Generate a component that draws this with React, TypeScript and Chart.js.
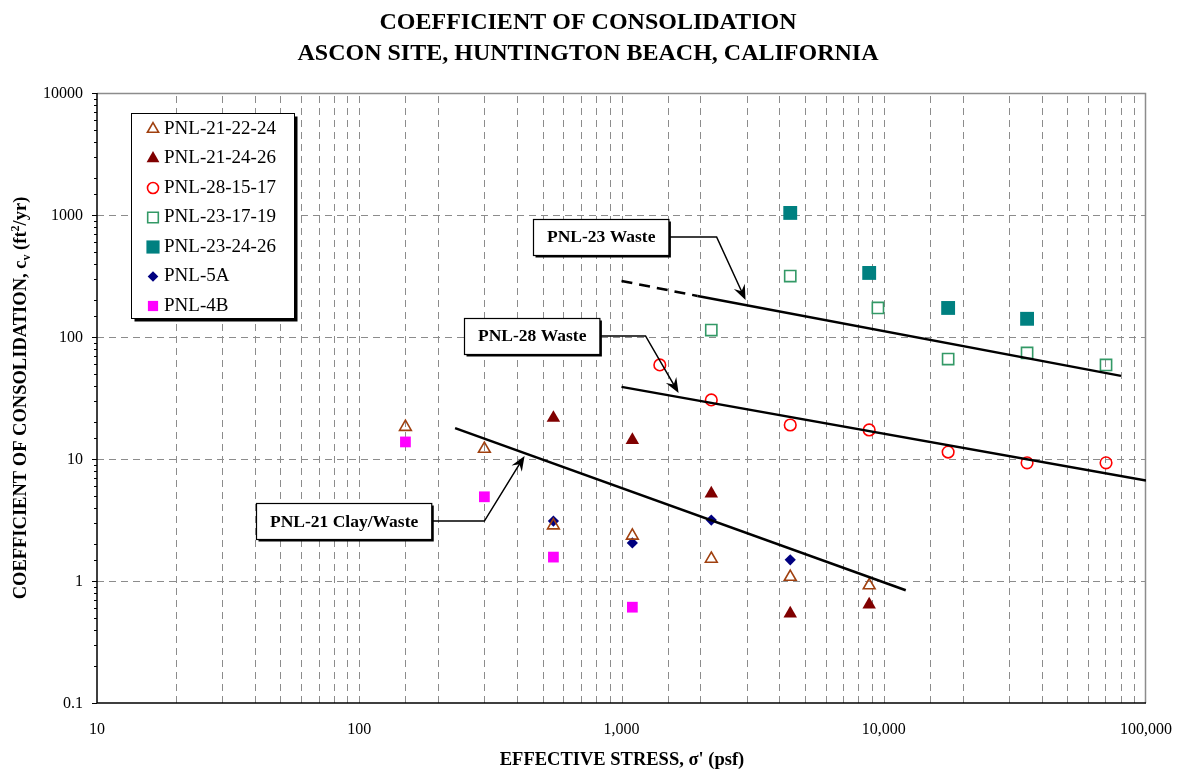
import React, { useEffect, useRef } from 'react';
import { Chart, registerables } from 'chart.js';

Chart.register(...registerables);

const FONT = "'Liberation Serif', 'Times New Roman', serif";

// ---- data (effective stress psf, cv ft2/yr) ----
const pnl21_22_24_x = [150, 300, 550, 1100, 2200, 4400, 8800];
const pnl21_22_24_y = [18.3, 12.1, 2.85, 2.35, 1.52, 1.08, 0.92];
const pnl21_24_26_x = [550, 1100, 2200, 4400, 8800];
const pnl21_24_26_y = [21.7, 14.3, 5.2, 0.54, 0.64];
const pnl28_15_17_x = [1400, 2200, 4400, 8800, 17600, 35200, 70400];
const pnl28_15_17_y = [59, 30.5, 19, 17.3, 11.4, 9.3, 9.3];
const pnl23_17_19_x = [2200, 4400, 9500, 17600, 35200, 70400];
const pnl23_17_19_y = [114, 316, 173, 66, 74, 59];
const pnl23_24_26_x = [4400, 8800, 17600, 35200];
const pnl23_24_26_y = [1040, 335, 173, 141];
const pnl5a_x = [550, 1100, 2200, 4400];
const pnl5a_y = [3.1, 2.05, 3.16, 1.49];
const pnl4b_x = [150, 300, 550, 1100];
const pnl4b_y = [13.8, 4.9, 1.57, 0.61];

// ---- trend lines ----
const fit21_x = [232, 12130];
const fit21_y = [17.9, 0.84];
const fit28_x = [1000, 100000];
const fit28_y = [39, 6.65];
const fit23_x = [1950, 80300];
const fit23_y = [217, 48];
const fit23dash_x = [1000, 1950];
const fit23dash_y = [288, 217];

// ---- annotations (data coords) ----
const annLabels = ['PNL-23 Waste', 'PNL-28 Waste', 'PNL-21 Clay/Waste'];
const annBoxCenter = [[832, 661], [453, 102], [86.9, 3.1]];
const annElbow = [[2305, 661], [1235, 102], [300, 3.1]];
const annTip = [[2972, 201], [1651, 34.8], [427, 10.6]];

// ---- axis tick labels ----
const xTickValues = [10, 100, 1000, 10000, 100000];
const xTickLabels = ['10', '100', '1,000', '10,000', '100,000'];
const yTickValues = [0.1, 1, 10, 100, 1000, 10000];
const yTickLabels = ['0.1', '1', '10', '100', '1000', '10000'];

const titleLines = ['COEFFICIENT OF CONSOLIDATION', 'ASCON SITE, HUNTINGTON BEACH, CALIFORNIA'];

type Series = { label: string; xs: number[]; ys: number[]; style: string; r: number; color: string; fill: boolean };
const series: Series[] = [
  { label: 'PNL-21-22-24', xs: pnl21_22_24_x, ys: pnl21_22_24_y, style: 'triangle', r: 6.8, color: '#A0400F', fill: false },
  { label: 'PNL-21-24-26', xs: pnl21_24_26_x, ys: pnl21_24_26_y, style: 'triangle', r: 7.8, color: '#800000', fill: true },
  { label: 'PNL-28-15-17', xs: pnl28_15_17_x, ys: pnl28_15_17_y, style: 'circle', r: 5.8, color: '#FF0000', fill: false },
  { label: 'PNL-23-17-19', xs: pnl23_17_19_x, ys: pnl23_17_19_y, style: 'rect', r: 7.9, color: '#339966', fill: false },
  { label: 'PNL-23-24-26', xs: pnl23_24_26_x, ys: pnl23_24_26_y, style: 'rect', r: 9.8, color: '#008080', fill: true },
  { label: 'PNL-5A', xs: pnl5a_x, ys: pnl5a_y, style: 'rectRot', r: 5.6, color: '#000080', fill: true },
  { label: 'PNL-4B', xs: pnl4b_x, ys: pnl4b_y, style: 'rect', r: 7.6, color: '#FF00FF', fill: true },
];

function isDecade(v: number) {
  const l = Math.log10(v);
  return Math.abs(l - Math.round(l)) < 1e-6;
}

function drawMarker(ctx: CanvasRenderingContext2D, s: Series, x: number, y: number, scale = 1) {
  const r = s.r * scale;
  ctx.save();
  ctx.beginPath();
  if (s.style === 'triangle') {
    ctx.moveTo(x, y - r);
    ctx.lineTo(x + r * 0.866, y + r * 0.5);
    ctx.lineTo(x - r * 0.866, y + r * 0.5);
    ctx.closePath();
  } else if (s.style === 'circle') {
    ctx.arc(x, y, r, 0, Math.PI * 2);
  } else if (s.style === 'rect') {
    const h = r * Math.SQRT1_2;
    ctx.rect(x - h, y - h, 2 * h, 2 * h);
  } else if (s.style === 'rectRot') {
    ctx.moveTo(x, y - r);
    ctx.lineTo(x + r, y);
    ctx.lineTo(x, y + r);
    ctx.lineTo(x - r, y);
    ctx.closePath();
  }
  if (s.fill) {
    ctx.fillStyle = s.color;
    ctx.fill();
  } else {
    ctx.lineWidth = 1.6;
    ctx.strokeStyle = s.color;
    ctx.stroke();
  }
  ctx.restore();
}

function drawArrowHead(ctx: CanvasRenderingContext2D, fx: number, fy: number, tx: number, ty: number) {
  const ang = Math.atan2(ty - fy, tx - fx);
  const len = 15;
  const hw = 6;
  const bx = tx - Math.cos(ang) * len;
  const by = ty - Math.sin(ang) * len;
  const nx = tx - Math.cos(ang) * len * 0.65;
  const ny = ty - Math.sin(ang) * len * 0.65;
  const px = -Math.sin(ang);
  const py = Math.cos(ang);
  ctx.beginPath();
  ctx.moveTo(tx, ty);
  ctx.lineTo(bx + px * hw, by + py * hw);
  ctx.lineTo(nx, ny);
  ctx.lineTo(bx - px * hw, by - py * hw);
  ctx.closePath();
  ctx.fillStyle = '#000';
  ctx.fill();
}

const customPlugin = {
  id: 'custom',
  beforeDatasetsDraw(chart: any) {
    const { ctx, chartArea: a, scales } = chart;
    const xs = scales.x;
    const ys = scales.y;
    ctx.save();
    ctx.strokeStyle = '#8c8c8c';
    ctx.lineWidth = 1;
    ctx.setLineDash([7, 5]);
    xs.ticks.forEach((t: any) => {
      const v = t.value;
      if (v <= 10 || v >= 100000) return;
      const px = Math.round(xs.getPixelForValue(v)) + 0.5;
      ctx.beginPath();
      ctx.moveTo(px, a.bottom);
      ctx.lineTo(px, a.top);
      ctx.stroke();
    });
    ys.ticks.forEach((t: any) => {
      const v = t.value;
      if (!isDecade(v) || v <= 0.1 || v >= 10000) return;
      const py = Math.round(ys.getPixelForValue(v)) + 0.5;
      ctx.beginPath();
      ctx.moveTo(a.left, py);
      ctx.lineTo(a.right, py);
      ctx.stroke();
    });
    ctx.setLineDash([]);
    // top and right border
    ctx.strokeStyle = '#8c8c8c';
    ctx.lineWidth = 1.5;
    ctx.beginPath();
    ctx.moveTo(a.left, a.top + 0.5);
    ctx.lineTo(a.right - 0.5, a.top + 0.5);
    ctx.lineTo(a.right - 0.5, a.bottom);
    ctx.stroke();
    // axes
    ctx.strokeStyle = '#000';
    ctx.lineWidth = 1.5;
    ctx.beginPath();
    ctx.moveTo(a.left, a.top);
    ctx.lineTo(a.left, a.bottom);
    ctx.lineTo(a.right, a.bottom);
    ctx.stroke();
    // y ticks
    ctx.lineWidth = 1;
    ys.ticks.forEach((t: any) => {
      const v = t.value;
      const py = Math.round(ys.getPixelForValue(v)) + 0.5;
      const len = isDecade(v) ? 5 : 3;
      ctx.beginPath();
      ctx.moveTo(a.left - len, py);
      ctx.lineTo(a.left, py);
      ctx.stroke();
    });
    // tick labels
    ctx.fillStyle = '#000';
    ctx.font = `16px ${FONT}`;
    ctx.textAlign = 'center';
    ctx.textBaseline = 'middle';
    xTickValues.forEach((v, i) => {
      ctx.fillText(xTickLabels[i], xs.getPixelForValue(v), a.bottom + 27);
    });
    ctx.textAlign = 'right';
    yTickValues.forEach((v, i) => {
      ctx.fillText(yTickLabels[i], a.left - 14, ys.getPixelForValue(v) + 0.5);
    });
    ctx.restore();
  },
  afterDatasetsDraw(chart: any) {
    const { ctx, scales } = chart;
    const xs = scales.x;
    const ys = scales.y;
    ctx.save();
    // annotations
    ctx.font = `bold 17.5px ${FONT}`;
    annLabels.forEach((label, i) => {
      const cx = xs.getPixelForValue(annBoxCenter[i][0]);
      const cy = ys.getPixelForValue(annBoxCenter[i][1]);
      const tw = ctx.measureText(label).width;
      const w = tw + 27;
      const h = 36;
      const left = Math.round(cx - w / 2) + 0.5;
      const top = Math.round(cy - h / 2) + 0.5;
      const ex = xs.getPixelForValue(annElbow[i][0]);
      const ey = ys.getPixelForValue(annElbow[i][1]);
      const tx = xs.getPixelForValue(annTip[i][0]);
      const ty = ys.getPixelForValue(annTip[i][1]);
      // leader line
      ctx.strokeStyle = '#000';
      ctx.lineWidth = 1.5;
      ctx.beginPath();
      ctx.moveTo(left + w, cy);
      ctx.lineTo(ex, ey);
      const ang = Math.atan2(ty - ey, tx - ex);
      ctx.lineTo(tx - Math.cos(ang) * 8, ty - Math.sin(ang) * 8);
      ctx.stroke();
      drawArrowHead(ctx, ex, ey, tx, ty);
      // box with shadow
      ctx.fillStyle = '#000';
      ctx.fillRect(left + 2, top + 2, w, h);
      ctx.fillStyle = '#fff';
      ctx.fillRect(left, top, w, h);
      ctx.lineWidth = 1.2;
      ctx.strokeRect(left, top, w, h);
      ctx.fillStyle = '#000';
      ctx.textAlign = 'center';
      ctx.textBaseline = 'middle';
      ctx.fillText(label, left + w / 2, cy + 1);
    });
    // legend
    const lx = 131.5, ly = 113.5, lw = 163, lh = 205;
    ctx.fillStyle = '#000';
    ctx.fillRect(lx + 3, ly + 3, lw, lh);
    ctx.fillStyle = '#fff';
    ctx.fillRect(lx, ly, lw, lh);
    ctx.strokeStyle = '#000';
    ctx.lineWidth = 1;
    ctx.strokeRect(lx, ly, lw, lh);
    ctx.font = `19px ${FONT}`;
    ctx.textAlign = 'left';
    ctx.textBaseline = 'middle';
    series.forEach((s, i) => {
      const y = 128 + i * 29.5;
      drawMarker(ctx, s, 153, y + 1, 0.95);
      ctx.fillStyle = '#000';
      ctx.fillText(s.label, 164, y + 1);
    });
    ctx.restore();
  },
  afterDraw(chart: any) {
    const { ctx, chartArea: a } = chart;
    ctx.save();
    ctx.fillStyle = '#000';
    ctx.textAlign = 'center';
    ctx.textBaseline = 'middle';
    ctx.font = `bold 24px ${FONT}`;
    ctx.fillText(titleLines[0], 588, 23);
    ctx.fillText(titleLines[1], 588, 54);
    // x title
    ctx.font = `bold 18.5px ${FONT}`;
    ctx.fillText("EFFECTIVE STRESS, \u03C3' (psf)", 622, 760);
    // y title with sub/superscript
    const segs: [string, number, number][] = [
      ['COEFFICIENT OF CONSOLIDATION, c', 18.5, 0],
      ['v', 12, 4],
      [' (ft', 18.5, 0],
      ['2', 12, -7],
      ['/yr)', 18.5, 0],
    ];
    let total = 0;
    segs.forEach(([t, sz]) => {
      ctx.font = `bold ${sz}px ${FONT}`;
      total += ctx.measureText(t).width;
    });
    ctx.translate(20, (a.top + a.bottom) / 2);
    ctx.rotate(-Math.PI / 2);
    ctx.textAlign = 'left';
    ctx.textBaseline = 'alphabetic';
    let x = -total / 2;
    segs.forEach(([t, sz, dy]) => {
      ctx.font = `bold ${sz}px ${FONT}`;
      ctx.fillText(t, x, 6 + dy);
      x += ctx.measureText(t).width;
    });
    ctx.restore();
  },
};

export default function App() {
  const ref = useRef<HTMLCanvasElement | null>(null);
  useEffect(() => {
    document.body.style.margin = '0';
    const canvas = ref.current;
    if (!canvas) return;
    const scatterSets = series.map((s) => ({
      type: 'scatter' as const,
      label: s.label,
      data: s.xs.map((x, i) => ({ x, y: s.ys[i] })),
      pointStyle: s.style,
      pointRadius: s.r,
      pointBackgroundColor: s.fill ? s.color : 'rgba(0,0,0,0)',
      pointBorderColor: s.color,
      pointBorderWidth: s.fill ? 0 : 1.6,
      showLine: false,
    }));
    const line = (xs: number[], ys: number[], dash: number[]) => ({
      type: 'line' as const,
      label: '',
      data: xs.map((x, i) => ({ x, y: ys[i] })),
      borderColor: '#000',
      borderWidth: 2.5,
      borderDash: dash,
      pointRadius: 0,
      fill: false,
      tension: 0,
    });
    const chart = new Chart(canvas, {
      type: 'scatter',
      data: {
        datasets: [
          line(fit21_x, fit21_y, []),
          line(fit28_x, fit28_y, []),
          line(fit23_x, fit23_y, []),
          line(fit23dash_x, fit23dash_y, [11, 7]),
          ...scatterSets,
        ] as any,
      },
      options: {
        responsive: false,
        animation: false,
        devicePixelRatio: 1,
        layout: { padding: { top: 93, right: 31, left: 0, bottom: 0 } },
        plugins: { legend: { display: false }, tooltip: { enabled: false }, title: { display: false } },
        scales: {
          x: {
            type: 'logarithmic',
            min: 10,
            max: 100000,
            grid: { display: false },
            border: { display: false },
            ticks: { display: false, autoSkip: false },
            afterFit: (s: any) => { s.height = 68; s.paddingLeft = 0; s.paddingRight = 0; },
          },
          y: {
            type: 'logarithmic',
            min: 0.1,
            max: 10000,
            grid: { display: false },
            border: { display: false },
            ticks: { display: false, autoSkip: false },
            afterFit: (s: any) => { s.width = 97; s.paddingTop = 0; s.paddingBottom = 0; },
          },
        },
      } as any,
      plugins: [customPlugin],
    });
    return () => chart.destroy();
  }, []);
  return <canvas ref={ref} width={1177} height={771} style={{ display: 'block', width: 1177, height: 771 }} />;
}
